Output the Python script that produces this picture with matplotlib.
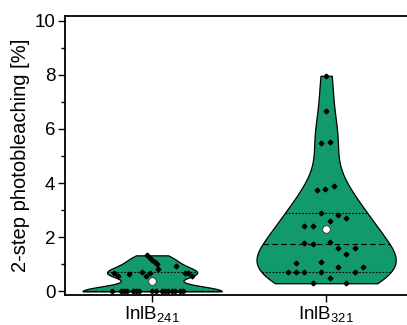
import numpy as np
import matplotlib
matplotlib.use('Agg')
import matplotlib.pyplot as plt
from matplotlib import mlab
from matplotlib.ticker import MultipleLocator

labels = ['InlB$_{\\mathregular{241}}$', 'InlB$_{\\mathregular{321}}$']

vals_241 = [0]*16 + [0.69, 0.55, 0.65, 0.57, 0.73, 0.66, 0.82, 1.33, 1.25,
                     1.17, 1.09, 1.01, 0.92, 0.69, 0.66, 0.58]
jit_241 = [-0.232, -0.178, -0.159, -0.142, -0.107, -0.092, -0.075, -0.002,
           0.021, 0.056, 0.075, 0.094, 0.113, 0.132, 0.161, 0.180,
           -0.218, -0.195, -0.132, -0.034, -0.057, -0.011, 0.032, -0.029, -0.014,
           0.0, 0.014, 0.029, 0.138, 0.190, 0.207, 0.230]

vals_321 = [7.96, 6.66, 5.48, 5.52, 3.76, 3.78, 3.88, 2.88, 2.82, 2.70, 2.60,
            2.43, 2.43, 1.84, 1.80, 1.75, 1.59, 1.59, 1.37, 1.04, 1.10, 0.89,
            0.89, 0.70, 0.70, 0.70, 0.70, 0.70, 0.51, 0.30, 0.30]
jit_321 = [0.0, 0.0, -0.029, 0.021, -0.054, -0.004, 0.046, -0.029, 0.069, 0.117,
           0.021, -0.125, -0.077, 0.021, -0.125, -0.077, 0.069, 0.165, 0.117,
           -0.171, -0.029, 0.069, 0.213, -0.218, -0.171, -0.125, -0.029, 0.165,
           0.021, -0.077, 0.117]

# quartile lines and mean
q1 = [0.0, 0.70]
median = [0.0, 1.75]
q3 = [0.70, 2.89]
means = [0.40, 2.29]
bw = [0.45, 0.42]

green = '#12996c'

plt.rcParams['font.family'] = ['Liberation Sans', 'DejaVu Sans']
plt.rcParams['mathtext.fontset'] = 'custom'
plt.rcParams['mathtext.rm'] = 'Liberation Sans'

fig = plt.figure(figsize=(4.07, 3.25), dpi=100)
ax = fig.add_axes([0.160, 0.091, 0.855, 0.860])

for i, (v, j) in enumerate([(vals_241, jit_241), (vals_321, jit_321)]):
    pos = i + 1
    v = np.array(v, dtype=float)
    kde = mlab.GaussianKDE(v, bw[i])
    y = np.linspace(v.min(), v.max(), 300)
    d = kde.evaluate(y)
    d = d / d.max() * 0.4
    ax.fill_betweenx(y, pos - d, pos + d, facecolor=green, edgecolor='black',
                     linewidth=0.9, zorder=2)
    for qv, ls in [(q1[i], (0, (1.5, 1.5))), (median[i], (0, (5, 3))),
                   (q3[i], (0, (1.5, 1.5)))]:
        w = np.interp(qv, y, d)
        ax.plot([pos - w, pos + w], [qv, qv], color='black', lw=0.8,
                linestyle=ls, zorder=3)
    ax.plot(pos + np.array(j), v, linestyle='', marker='D', markersize=2.4,
            color='black', zorder=4)
    ax.plot(pos, means[i], linestyle='', marker='o', markersize=5.5,
            markerfacecolor='white', markeredgecolor='#333333',
            markeredgewidth=0.6, zorder=5)

ax.set_xlim(0.5, 2.5)
ax.set_ylim(-0.15, 10.17)
ax.set_xticks([1, 2])
ax.set_xticklabels(labels, fontsize=13.5)
ax.yaxis.set_major_locator(MultipleLocator(2))
ax.yaxis.set_minor_locator(MultipleLocator(1))
ax.tick_params(axis='y', labelsize=13.5, width=1.0, length=5, direction='out', pad=2)
ax.tick_params(axis='y', which='minor', length=3, width=1.0)
ax.tick_params(axis='x', width=1.0, length=5, pad=2)
ax.set_ylabel('2-step photobleaching [%]', fontsize=14.5, labelpad=3)
ax.spines['right'].set_visible(False)
for s in ['left', 'bottom', 'top']:
    ax.spines[s].set_linewidth(1.3)

fig.savefig('out.png', dpi=100)
